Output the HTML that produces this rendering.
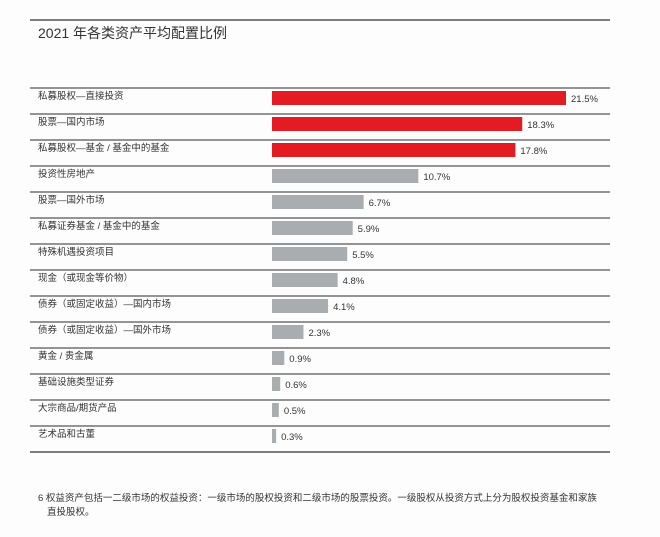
<!DOCTYPE html>
<html><head><meta charset="utf-8"><style>
body{margin:0;background:#fdfdfd;width:660px;height:532px;overflow:hidden;font-family:"Liberation Sans","Noto Sans CJK SC",sans-serif;color:#333}
</style></head><body>
<svg width="660" height="532" id="svg">
<line x1="30" y1="20" x2="610" y2="20" stroke="#555" stroke-width="1.5"/>
<text x="38" y="38" font-size="14" fill="#333">2021 年各类资产平均配置比例</text>
<g id="rows"></g>
<text x="38" y="501" font-size="9.5" fill="#333">6  权益资产包括一二级市场的权益投资：一级市场的股权投资和二级市场的股票投资。一级股权从投资方式上分为股权投资基金和家族</text>
<text x="47" y="515" font-size="9.5" fill="#333">直投股权。</text>
</svg>
<script>
const categories=["私募股权—直接投资","股票—国内市场","私募股权—基金 / 基金中的基金","投资性房地产","股票—国外市场","私募证券基金 / 基金中的基金","特殊机遇投资项目","现金（或现金等价物）","债券（或固定收益）—国内市场","债券（或固定收益）—国外市场","黄金 / 贵金属","基础设施类型证券","大宗商品/期货产品","艺术品和古董"];
const values=[21.5,18.3,17.8,10.7,6.7,5.9,5.5,4.8,4.1,2.3,0.9,0.6,0.5,0.3];
const valueLabels=["21.5%","18.3%","17.8%","10.7%","6.7%","5.9%","5.5%","4.8%","4.1%","2.3%","0.9%","0.6%","0.5%","0.3%"];
const NS="http://www.w3.org/2000/svg";
const g=document.getElementById('rows');
const x0=272,scale=294/21.5,top0=88,rowH=26;
function mk(t,a){const e=document.createElementNS(NS,t);for(const k in a)e.setAttribute(k,a[k]);g.appendChild(e);return e;}
categories.forEach((c,i)=>{
 const y=top0+i*rowH;
 const ln=mk('line',{x1:30,x2:610,y1:y,y2:y,stroke:'#555','stroke-width':1.3});
 
 
 const t=mk('text',{x:38,y:y+11,'font-size':9.5,fill:'#333'});t.textContent=c;
 
 
 const w=Math.max(values[i]*scale,4);
 const b=mk('rect',{x:x0,y:y+3,width:w,height:14,fill:i<3?'#e31b23':'#aaadb0'});
 
 
 const v=mk('text',{x:x0+w+5,y:y+14,'font-size':9.5,fill:'#333'});v.textContent=valueLabels[i];
 
 
});
const yb=top0+categories.length*rowH;
const bl=mk('line',{x1:30,x2:610,y1:yb,y2:yb,stroke:'#555','stroke-width':1.5});


</script>
</body></html>
